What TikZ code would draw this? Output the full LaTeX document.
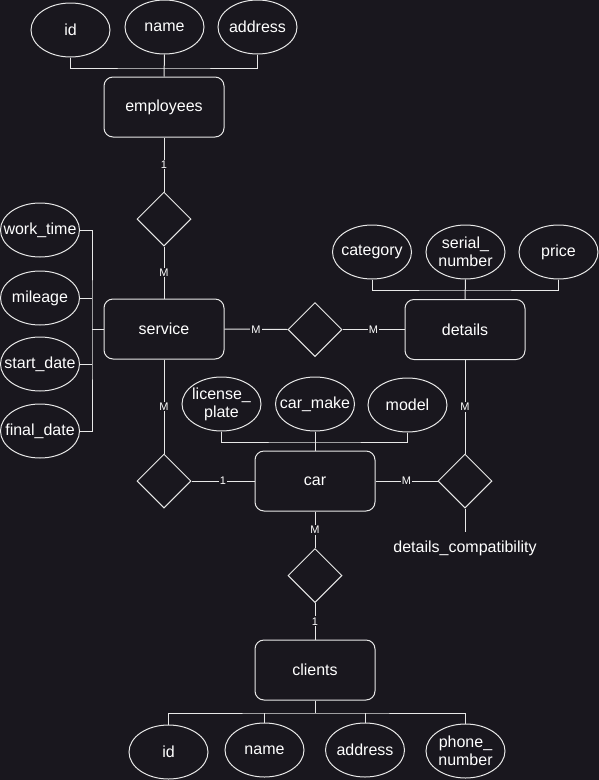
\documentclass[tikz,border=0pt]{standalone}
\usepackage{fontspec}
\setmainfont{Liberation Sans}
\usetikzlibrary{shapes.geometric}
\definecolor{bgdark}{RGB}{25,23,30}
\definecolor{fgline}{RGB}{232,232,232}
\begin{document}
\begin{tikzpicture}[x=1pt,y=-1pt,line width=1pt,color=fgline]
\tikzstyle{entity}=[draw,rounded corners=9pt,minimum width=120pt,minimum height=60pt,inner sep=0pt,text=white,font=\fontsize{16}{18}\selectfont]
\tikzstyle{attr}=[ellipse,draw,minimum width=79pt,minimum height=54pt,inner xsep=-12pt,inner ysep=-6pt,align=center,text=white,font=\fontsize{16}{18}\selectfont]
\tikzstyle{rel}=[diamond,draw,minimum width=54pt,minimum height=54pt,inner sep=0pt]
\tikzstyle{card}=[fill=bgdark,inner sep=1pt,text=white,font=\fontsize{11}{12}\selectfont]
\fill[bgdark] (0,0) rectangle (599,780);
\useasboundingbox (0,0) rectangle (599,780);
% entities
\node (emp)[entity] at (164,107) {employees};
\node (svc)[entity] at (164,329) {service};
\node (det)[entity] at (465,329.5) {details};
\node (car)[entity] at (315,481) {car};
\node (cli)[entity] at (315,670) {clients};
% relationships
\node (r1)[rel] at (164,219) {};
\node (r2)[rel] at (315,329.5) {};
\node (r3)[rel] at (465,481) {};
\node (r4)[rel] at (164,481) {};
\node (r5)[rel] at (315,575.5) {};
% attributes
\node (eid)[attr] at (70.5,30) {id};
\node (ename)[attr] at (164.5,27) {name};
\node (eaddr)[attr] at (257.5,27) {address};
\node (work)[attr] at (40,230) {work\_time};
\node (mil)[attr] at (40,298) {mileage};
\node (sdate)[attr] at (40,364) {start\_date};
\node (fdate)[attr] at (40,431) {final\_date};
\node (cat)[attr] at (372,252) {category};
\node (ser)[attr] at (465.5,252) {serial\_\\number};
\node (price)[attr] at (558.5,252) {price};
\node (lic)[attr] at (221.5,404) {license\_\\plate};
\node (make)[attr] at (315,404) {car\_make};
\node (model)[attr] at (407.5,405) {model};
\node (cid)[attr] at (168.5,752) {id};
\node (cname)[attr] at (264.5,750) {name};
\node (caddr)[attr] at (365,750) {address};
\node (cphone)[attr] at (465.5,751) {phone\_\\number};
\node (comp)[anchor=north,inner xsep=0pt,inner ysep=8pt,text=white,font=\fontsize{16}{18}\selectfont] at (465,532) {details\_compatibility};
% attribute buses
\coordinate (ebus) at (164,68);
\coordinate (sbus) at (92,329);
\coordinate (dbus) at (465,290);
\coordinate (cbus) at (315,442);
\coordinate (clbus) at (315,713);
\draw (eid.south) |- (ebus) -| (eaddr.south);
\draw (ename.south) -- (emp.north);
\draw (work.east) -| (sbus) |- (fdate.east);
\draw (mil.east) -- (mil.east -| sbus);
\draw (sdate.east) -- (sdate.east -| sbus);
\draw (sbus) -- (svc.west);
\draw (cat.south) |- (dbus) -| (price.south);
\draw (ser.south) -- (det.north);
\draw (lic.south) |- (cbus) -| (model.south);
\draw (make.south) -- (car.north);
\draw (cid.north) |- (clbus) -| (cphone.north);
\draw (cli.south) -- (clbus);
\draw (cname.north) -- (cname.north |- clbus);
\draw (caddr.north) -- (caddr.north |- clbus);
% relationship links
\draw (emp.south) -- node[card] {1} (r1.north);
\draw (r1.south) -- node[card] {M} (svc.north);
\draw (svc.east) -- node[card] {M} (r2.west);
\draw (r2.east) -- node[card] {M} (det.west);
\draw (det.south) -- node[card] {M} (r3.north);
\draw (car.east) -- node[card] {M} (r3.west);
\draw (r3.south) -- (comp.north);
\draw (svc.south) -- node[card] {M} (r4.north);
\draw (r4.east) -- node[card] {1} (car.west);
\draw (car.south) -- node[card] {M} (r5.north);
\draw (r5.south) -- node[card] {1} (cli.north);
\end{tikzpicture}
\end{document}
